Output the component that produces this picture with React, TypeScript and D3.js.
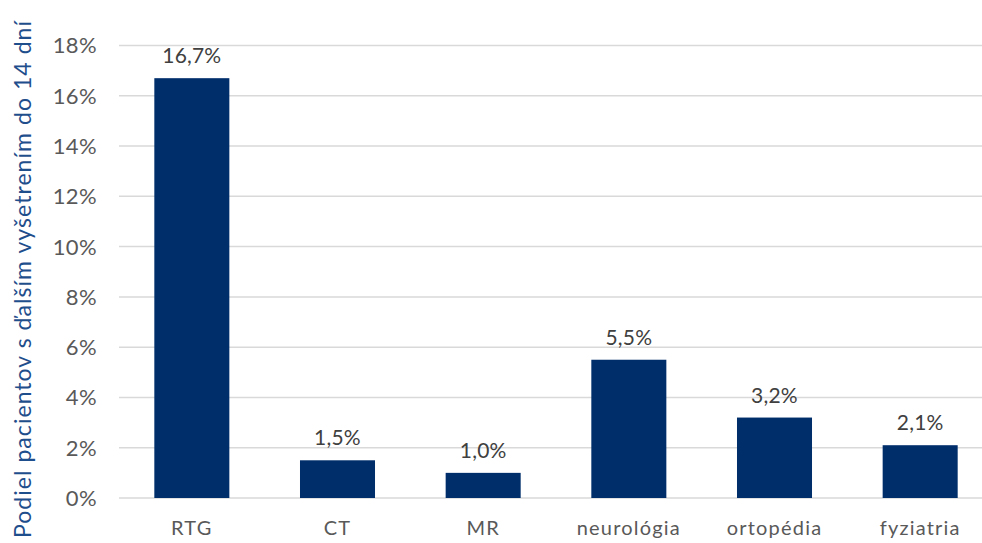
import React from "react";
import * as d3 from "d3";

const categories = ["RTG", "CT", "MR", "neurológia", "ortopédia", "fyziatria"];
const values = [16.7, 1.5, 1.0, 5.5, 3.2, 2.1];
const yTicks = [0, 2, 4, 6, 8, 10, 12, 14, 16, 18];
const yTitle = "Podiel pacientov s ďalším vyšetrením do 14 dní";

const W = 982;
const H = 543;
const FONT = "Lato, 'Noto Sans', sans-serif";

export default function App() {
  const x = d3.scaleBand<string>().domain(categories).range([119, 993]).paddingInner(0.485).paddingOuter(0.2425);
  const y = d3.scaleLinear().domain([0, 18]).range([498, 45.5]);
  const fmt = (v: number) => v.toFixed(1).replace(".", ",") + "%";
  return (
    <div style={{ position: "absolute", left: 0, top: 0 }}>
      <svg width={W} height={H} style={{ display: "block" }} fontFamily={FONT}>
        <rect width={W} height={H} fill="#fff" />
        {yTicks.map((t) => (
          <g key={t}>
            <line x1={119} x2={W} y1={y(t)} y2={y(t)} stroke="#d9d9d9" strokeWidth={1.5} />
            <text x={97} y={y(t)} dy="0.36em" textAnchor="end" fontSize={22} letterSpacing={0.4} fill="#595959">
              {t}%
            </text>
          </g>
        ))}
        {categories.map((c, i) => (
          <g key={c}>
            <rect x={x(c)} y={y(values[i])} width={x.bandwidth()} height={y(0) - y(values[i])} fill="#002e6b" />
            <text x={x(c)! + x.bandwidth() / 2} y={y(values[i]) - 15} textAnchor="middle" fontSize={21} letterSpacing={0.2} fill="#404040">
              {fmt(values[i])}
            </text>
            <text x={x(c)! + x.bandwidth() / 2} y={535} textAnchor="middle" fontSize={20} letterSpacing={1.2} fill="#595959">
              {c}
            </text>
          </g>
        ))}
        <text transform={`translate(31, 279) rotate(-90)`} textAnchor="middle" fontSize={23} letterSpacing={1.05} fill="#1f4e8c">
          {yTitle}
        </text>
      </svg>
    </div>
  );
}
